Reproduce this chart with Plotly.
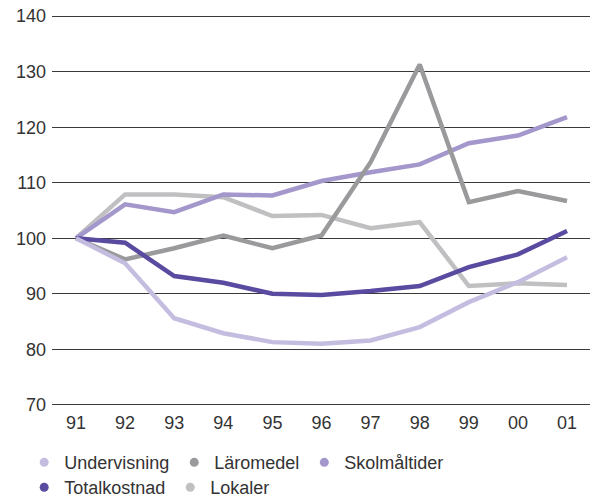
import plotly.graph_objects as go

years = ["91", "92", "93", "94", "95", "96", "97", "98", "99", "00", "01"]

undervisning = [100, 95.5, 85.6, 82.9, 81.3, 81.0, 81.6, 84.0, 88.5, 92.1, 96.6]
laromedel = [100, 96.2, 98.2, 100.5, 98.2, 100.5, 113.7, 131.3, 106.5, 108.5, 106.7]
skolmaltider = [100, 106.1, 104.7, 107.9, 107.7, 110.3, 111.9, 113.3, 117.1, 118.5, 121.8]
totalkostnad = [100, 99.2, 93.2, 92.0, 90.0, 89.8, 90.5, 91.4, 94.8, 97.1, 101.3]
lokaler = [100, 107.9, 107.9, 107.4, 104.0, 104.2, 101.8, 102.9, 91.4, 91.9, 91.6]

y_ticks = [70, 80, 90, 100, 110, 120, 130, 140]

colors = {
    "Undervisning": "#c5bde0",
    "Läromedel": "#9a9a9d",
    "Skolmåltider": "#a497cb",
    "Totalkostnad": "#5a4aa0",
    "Lokaler": "#c0c0c2",
}

series = {
    "Undervisning": undervisning,
    "Läromedel": laromedel,
    "Skolmåltider": skolmaltider,
    "Totalkostnad": totalkostnad,
    "Lokaler": lokaler,
}

draw_order = ["Lokaler", "Skolmåltider", "Läromedel", "Totalkostnad", "Undervisning"]
legend_rows = {
    "legend": ["Undervisning", "Läromedel", "Skolmåltider"],
    "legend2": ["Totalkostnad", "Lokaler"],
}

fig = go.Figure()
for name in draw_order:
    fig.add_trace(go.Scatter(
        x=years, y=series[name], mode="lines", name=name,
        line=dict(color=colors[name], width=4.5), showlegend=False,
        hoverinfo="skip",
    ))

for leg, names in legend_rows.items():
    for name in names:
        fig.add_trace(go.Scatter(
            x=[None], y=[None], mode="markers", name=name, legend=leg,
            marker=dict(color=colors[name], size=9),
        ))

font_family = "Liberation Sans, Arial, sans-serif"

fig.update_layout(
    width=590, height=498,
    margin=dict(l=52, r=0, t=15, b=92, autoexpand=False),
    paper_bgcolor="white", plot_bgcolor="white",
    font=dict(family=font_family, size=18, color="#333333"),
    legend=dict(
        orientation="h", xref="container", yref="container",
        x=0.041, y=0.071, xanchor="left", yanchor="middle",
        font=dict(size=18, color="#333333"), bgcolor="rgba(0,0,0,0)",
    ),
    legend2=dict(
        orientation="h", xref="container", yref="container",
        x=0.041, y=0.021, xanchor="left", yanchor="middle",
        font=dict(size=18, color="#333333"), bgcolor="rgba(0,0,0,0)",
    ),
    xaxis=dict(
        type="category", range=[-0.489, 10.468],
        showgrid=False, showline=False, zeroline=False,
        ticks="", ticklabelstandoff=4, automargin=False,
        tickfont=dict(size=18, color="#333333"),
    ),
    yaxis=dict(
        range=[69.8, 140.2], tickvals=y_ticks,
        showgrid=True, gridcolor="#3a3a3a", gridwidth=1,
        showline=False, zeroline=False, ticks="",
        ticklabelstandoff=5, automargin=False,
        tickfont=dict(size=18, color="#333333"),
    ),
)

fig.write_html(
    "out.html",
    config={"displayModeBar": False},
    post_script="document.body.style.margin='0';document.body.style.overflow='hidden';",
)
